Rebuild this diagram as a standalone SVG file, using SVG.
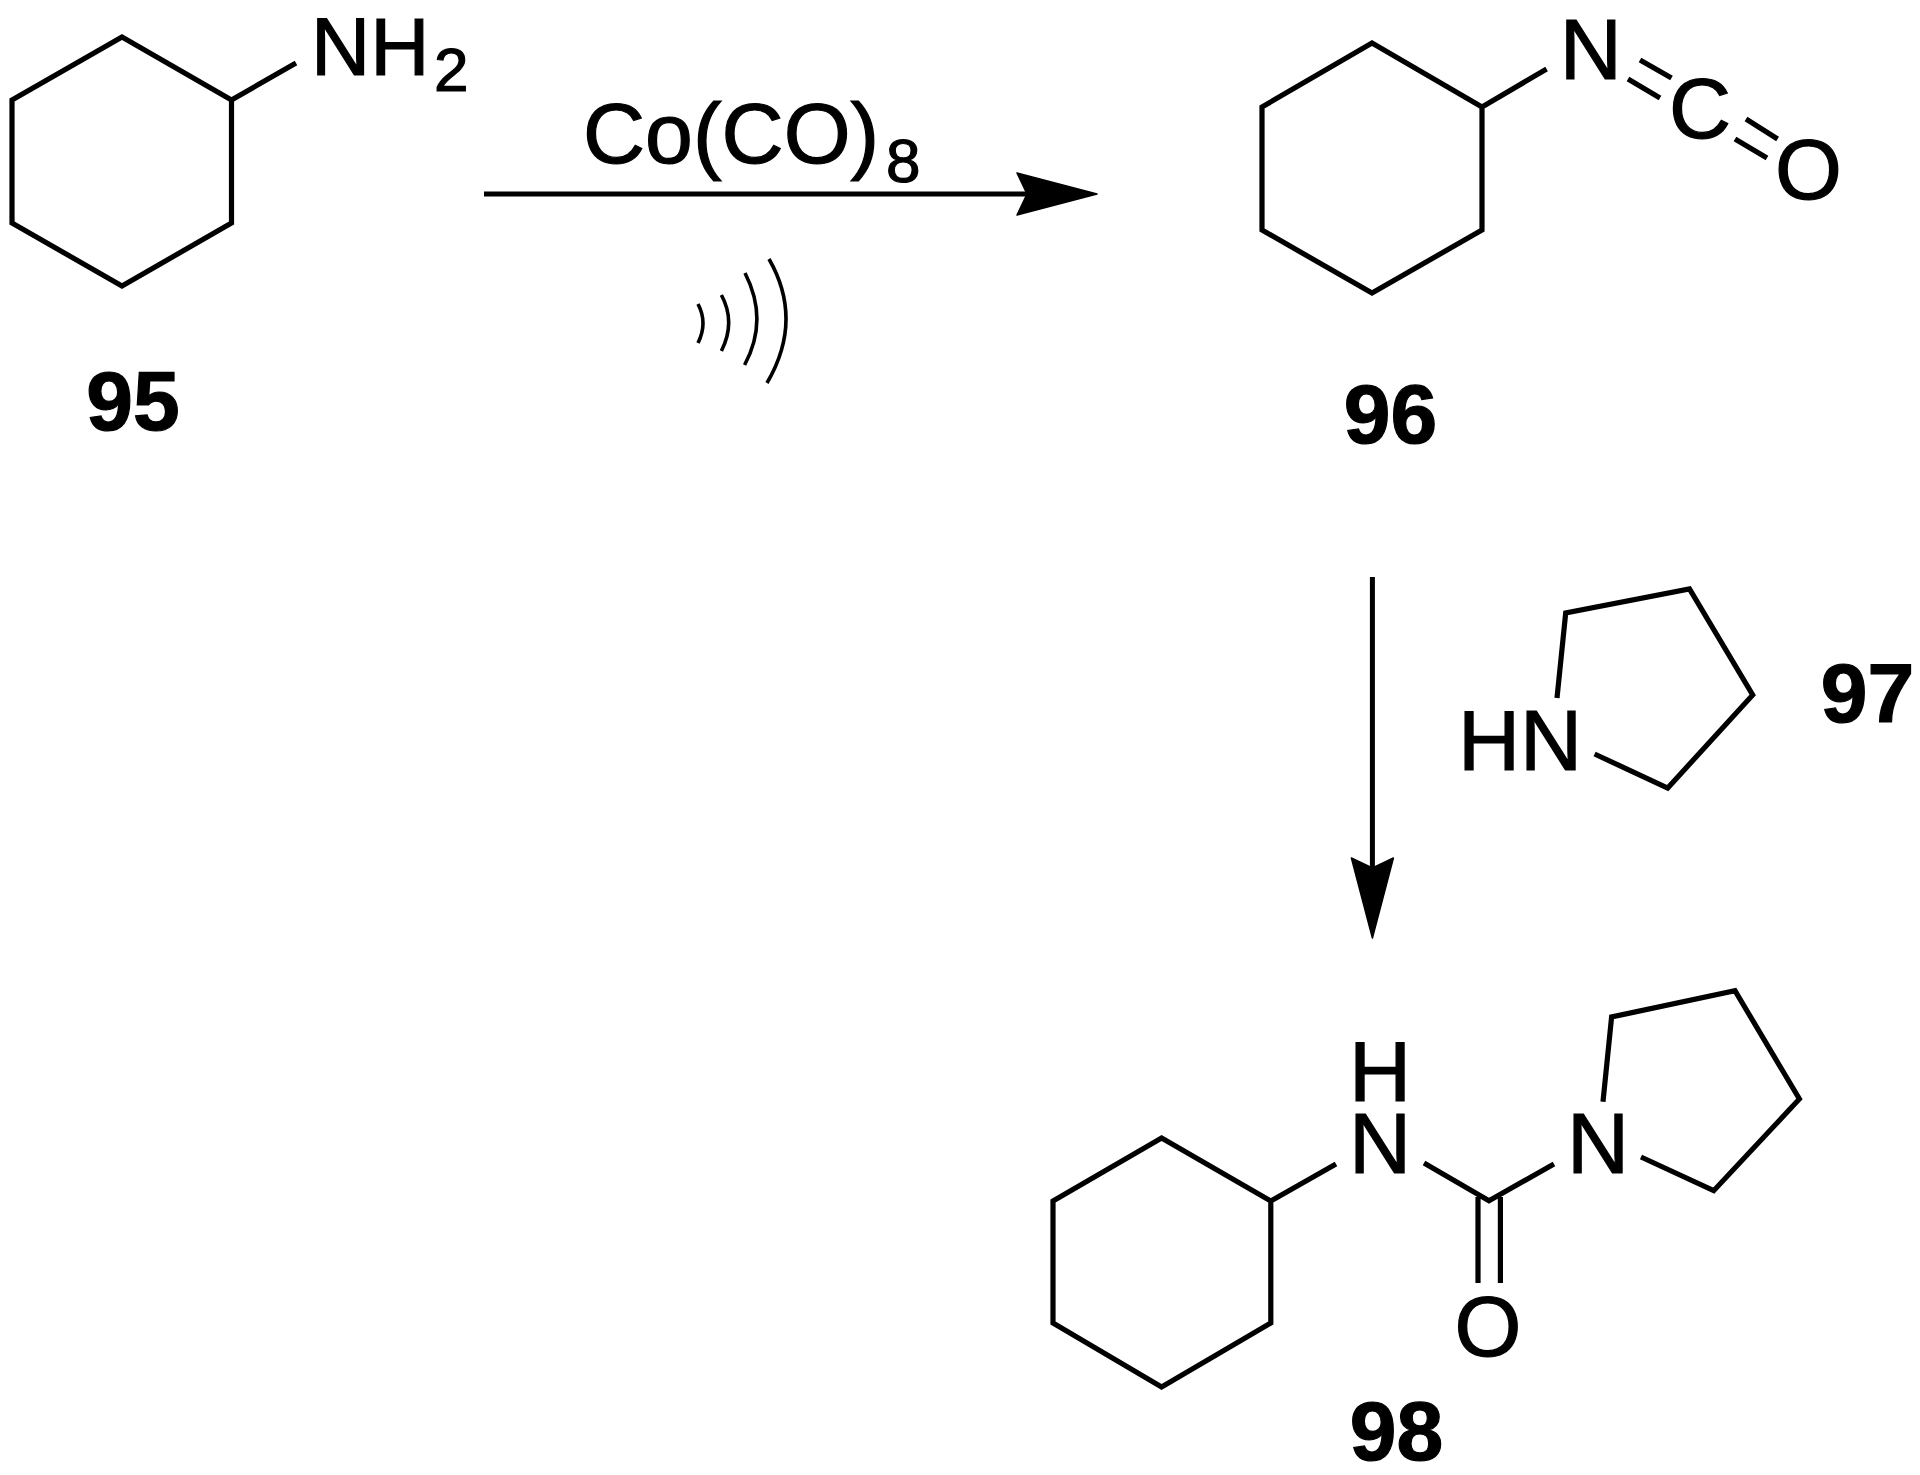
<svg xmlns="http://www.w3.org/2000/svg" width="1920" height="1475" viewBox="0 0 1920 1475">
<defs>
<marker id="head" markerUnits="userSpaceOnUse" markerWidth="88" markerHeight="50" viewBox="-4 -25 88 50" refX="10" refY="0" orient="auto"><path d="M0,-21 L80,0 L0,21 L10,0 Z" fill="#000" stroke="#000" stroke-width="1.5" stroke-linejoin="round"/></marker>
</defs>
<style>
.b{fill:none;stroke:#000;stroke-width:5.2;stroke-linejoin:miter;stroke-linecap:butt}
.w{fill:none;stroke:#000;stroke-width:3.6;stroke-linecap:butt}
.a{fill:none;stroke:#000;stroke-width:5}
text{font-family:"Liberation Sans",Arial,sans-serif;font-size:86px;fill:#000;stroke:#000;stroke-width:1.2;text-anchor:middle}
.s{font-size:62px;text-anchor:start}
.l{font-weight:bold;font-size:84px}
.st{text-anchor:start}
.nh{font-size:82px;text-anchor:start}
</style>
<rect width="1920" height="1475" fill="#fff"/>
<g id="connectors">
<line class="a" x1="484" y1="194" x2="1027" y2="194" marker-end="url(#head)"/>
<line class="a" x1="1372.4" y1="577" x2="1372.4" y2="868" marker-end="url(#head)"/>
</g>
<g id="mol-95">
<path class="b" d="M122,37 L231.5,100 L231.5,223 L122,286 L12,223 L12,100 Z M231.5,100 L296,63"/>
<text class="nh" x="311" y="75">NH</text>
<text class="s" x="434" y="91">2</text>
<text class="l" x="133" y="430">95</text>
</g>
<g id="reagent">
<text class="st" x="583" y="163">Co(CO)</text>
<text class="s" x="886" y="182">8</text>
</g>
<g id="ultrasound">
<path class="w" d="M698,304 Q708,323 698,343 M721.4,295 Q736,322 721.4,351 M745,273 Q769,320 744.6,365 M769,259 Q804,320 767,383"/>
</g>
<g id="mol-96">
<path class="b" d="M1372,43 L1482,107 L1482,230 L1372,293 L1262,230 L1262,107 Z M1482,107 L1546.6,69 M1640,60 L1671.5,78 M1628,79 L1660,98 M1746,119 L1777.6,139 M1735,139 L1767,158"/>
<text x="1590.7" y="79">N</text>
<text x="1700" y="138">C</text>
<text x="1808.5" y="199">O</text>
<text class="l" x="1390.5" y="443">96</text>
</g>
<g id="mol-97">
<path class="b" d="M1557,698 L1565.7,613 L1689.5,589 L1752.7,695 L1667.7,788 L1594.6,754"/>
<text x="1520" y="770">HN</text>
<text class="l" x="1867.5" y="722">97</text>
</g>
<g id="mol-98">
<path class="b" d="M1161.6,1138 L1270.8,1201 L1270.8,1323 L1161.6,1387 L1053,1323 L1053,1201 Z M1270.8,1201 L1336,1164 M1424,1163 L1489,1200.7 L1554,1164 M1603,1101.7 L1611.6,1017 L1735,990.7 L1799.4,1099 L1713.7,1190.7 L1641,1157 M1478,1197 L1478,1283 M1500.4,1197 L1500.4,1283"/>
<text><tspan x="1380" y="1100.7">H</tspan><tspan x="1380" y="1173">N</tspan></text>
<text x="1598" y="1173">N</text>
<text x="1488" y="1356">O</text>
<text class="l" x="1396.5" y="1460">98</text>
</g>
</svg>
